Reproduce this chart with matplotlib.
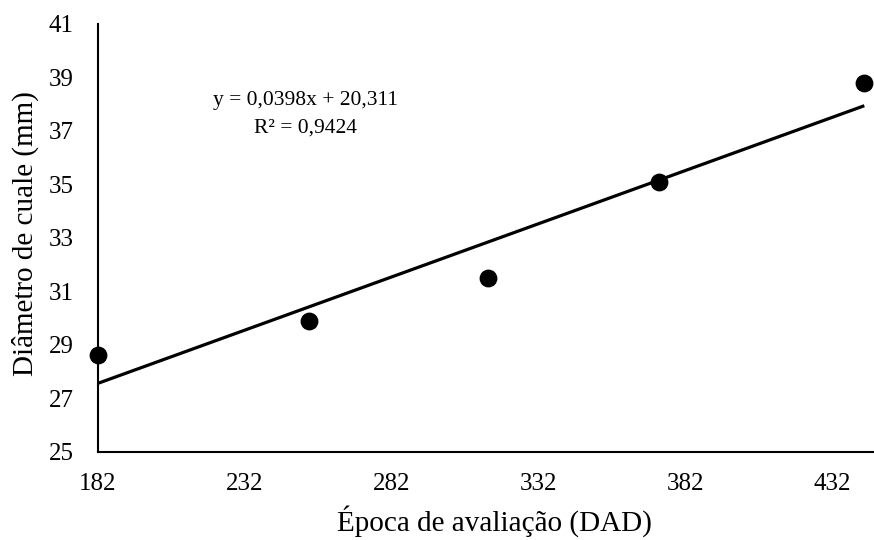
import numpy as np
import matplotlib
matplotlib.use("Agg")
import matplotlib.pyplot as plt

plt.rcParams['font.family'] = ['Liberation Serif', 'DejaVu Serif']

# Data
dad = [182, 254, 315, 373, 443]
diametro = [28.62, 29.89, 31.49, 35.08, 38.78]
x_ticks = [182, 232, 282, 332, 382, 432]
y_ticks = [25, 27, 29, 31, 33, 35, 37, 39, 41]
slope = 0.0398
intercept = 20.311
r2_text = "R² = 0,9424"
eq_text = "y = 0,0398x + 20,311"

fig = plt.figure(figsize=(8.74, 5.40), dpi=100)
ax = fig.add_axes([0.1118, 0.1635, 0.8882, 0.7921])

ax.scatter(dad, diametro, s=140, color='black', zorder=3, clip_on=False)
xt = np.array([min(dad), max(dad)])
ax.plot(xt, slope * xt + intercept, color='black', lw=2.3, zorder=2, solid_capstyle='butt')

ax.set_xlim(182, 446.3)
ax.set_ylim(25, 41)
ax.set_xticks(x_ticks)
ax.set_yticks(y_ticks)
ax.tick_params(axis='both', length=0, labelsize=18)
ax.tick_params(axis='x', pad=15)
ax.tick_params(axis='y', pad=17.5)

for s in ['top', 'right']:
    ax.spines[s].set_visible(False)
for s in ['left', 'bottom']:
    ax.spines[s].set_linewidth(1.5)

ax.set_xlabel("Época de avaliação (DAD)", fontsize=21)
ax.set_ylabel("Diâmetro de cuale (mm)", fontsize=21)
ax.xaxis.set_label_coords(0.511, -0.1246)
ax.yaxis.set_label_coords(-0.0756, 0.51)

ax.text(252.9, 38.12, eq_text, ha='center', va='center', fontsize=15.5)
ax.text(252.9, 37.1, r2_text, ha='center', va='center', fontsize=15.5)

fig.savefig("out.png", dpi=100)
